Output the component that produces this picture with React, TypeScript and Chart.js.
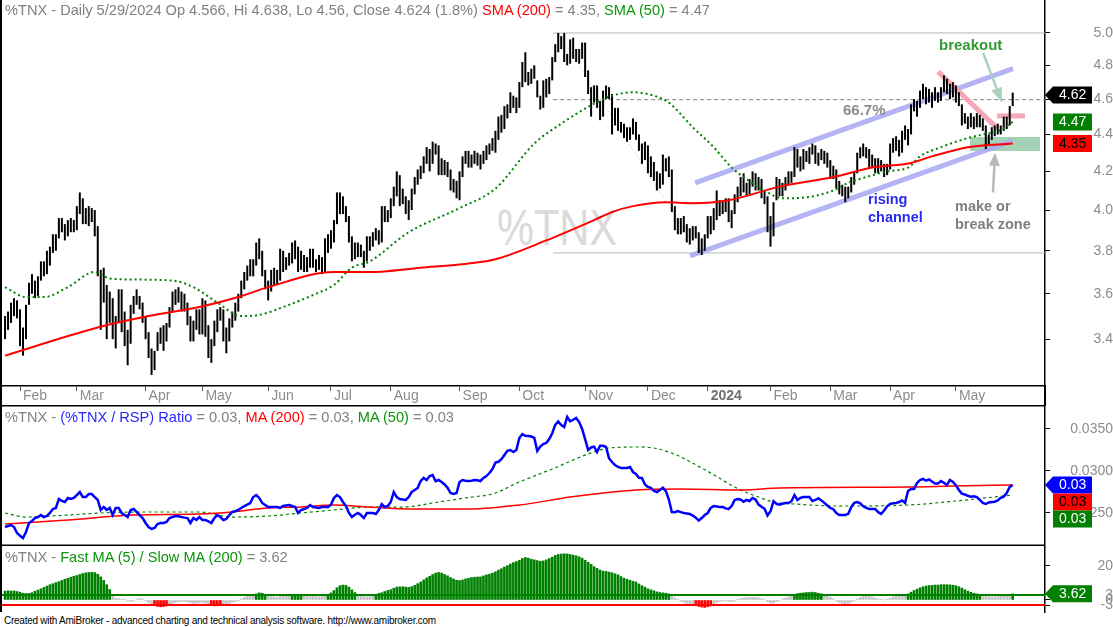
import React, { useEffect, useRef } from "react";
import { Chart, registerables } from "chart.js";

Chart.register(...registerables);

const FONT = "'Liberation Sans', Arial, Helvetica, sans-serif";
Chart.defaults.font.family = FONT;

// ---------------- data ----------------
// trading-day index of the first session of each month (day 0 = 2023-01-25)
const monthTickDays = [5, 24, 47, 66, 88, 109, 129, 152, 172, 194, 215, 235, 256, 276, 296, 318];
const monthTickLabels = ["Feb", "Mar", "Apr", "May", "Jun", "Jul", "Aug", "Sep", "Oct", "Nov", "Dec", "2024", "Feb", "Mar", "Apr", "May"];
const yearTickDay = 235;

const priceTicks = [3.4, 3.6, 3.8, 4.0, 4.2, 4.4, 4.6, 4.8, 5.0];

// daily lows / highs of %TNX
const lows = [
  3.40, 3.44, 3.47, 3.50, 3.49,
  3.37, 3.33, 3.40, 3.55, 3.60, 3.58, 3.59, 3.66, 3.68, 3.69, 3.73, 3.79, 3.80, 3.86, 3.89, 3.85, 3.87, 3.89, 3.89,
  3.90, 3.98, 3.93, 3.93, 3.92, 3.94, 3.87, 3.68, 3.44, 3.56, 3.40, 3.47, 3.40, 3.36, 3.47, 3.43, 3.37, 3.29, 3.38, 3.51, 3.55, 3.53, 3.47,
  3.40, 3.32, 3.25, 3.27, 3.35, 3.38, 3.35, 3.39, 3.45, 3.52, 3.55, 3.56, 3.52, 3.52, 3.46, 3.39, 3.39, 3.44, 3.42,
  3.42, 3.41, 3.32, 3.30, 3.37, 3.43, 3.48, 3.39, 3.34, 3.39, 3.45, 3.48, 3.52, 3.58, 3.62, 3.66, 3.68, 3.68, 3.73, 3.76, 3.68, 3.62,
  3.57, 3.61, 3.64, 3.64, 3.66, 3.70, 3.71, 3.73, 3.74, 3.76, 3.70, 3.71, 3.70, 3.70, 3.72, 3.72, 3.70, 3.71, 3.69, 3.70, 3.79,
  3.81, 3.84, 3.93, 3.98, 3.98, 3.94, 3.84, 3.75, 3.76, 3.77, 3.77, 3.72, 3.75, 3.80, 3.82, 3.85, 3.83, 3.84, 3.94, 3.94,
  3.96, 4.02, 4.07, 4.02, 4.03, 3.98, 3.95, 4.00, 4.08, 4.13, 4.16, 4.19, 4.24, 4.20, 4.24, 4.29, 4.18, 4.18, 4.18, 4.17, 4.10, 4.09, 4.06,
  4.05, 4.17, 4.24, 4.22, 4.22, 4.24, 4.23, 4.21, 4.24, 4.26, 4.29, 4.31, 4.30, 4.37, 4.41, 4.43, 4.49, 4.52, 4.55, 4.52,
  4.55, 4.67, 4.70, 4.68, 4.69, 4.72, 4.61, 4.54, 4.55, 4.61, 4.63, 4.71, 4.82, 4.88, 4.90, 4.82, 4.80, 4.81, 4.84, 4.82, 4.81, 4.84,
  4.73, 4.63, 4.50, 4.58, 4.55, 4.48, 4.50, 4.60, 4.60, 4.40, 4.45, 4.42, 4.41, 4.38, 4.36, 4.37, 4.40, 4.37, 4.31, 4.24, 4.26,
  4.19, 4.17, 4.15, 4.10, 4.11, 4.13, 4.20, 4.17, 3.99, 3.90, 3.88, 3.88, 3.89, 3.84, 3.83, 3.85, 3.86, 3.79, 3.78, 3.80,
  3.86, 3.88, 3.90, 3.95, 3.97, 3.98, 3.99, 3.94, 3.91, 3.98, 4.04, 4.07, 4.09, 4.07, 4.08, 4.12, 4.10, 4.10, 4.06, 4.03, 3.89,
  3.82, 3.87, 4.05, 4.07, 4.07, 4.10, 4.13, 4.14, 4.17, 4.22, 4.20, 4.21, 4.25, 4.24, 4.29, 4.24, 4.23, 4.26, 4.24, 4.22,
  4.16, 4.16, 4.11, 4.08, 4.07, 4.04, 4.06, 4.09, 4.13, 4.19, 4.27, 4.28, 4.27, 4.22, 4.22, 4.19, 4.19, 4.20, 4.17, 4.18,
  4.21, 4.30, 4.31, 4.28, 4.30, 4.37, 4.34, 4.40, 4.53, 4.50, 4.55, 4.60, 4.57, 4.58, 4.55, 4.59, 4.58, 4.59, 4.64, 4.63, 4.60, 4.61,
  4.58, 4.56, 4.45, 4.46, 4.43, 4.44, 4.43, 4.44, 4.44, 4.42, 4.32, 4.34, 4.37, 4.39, 4.40, 4.40, 4.42, 4.43, 4.45, 4.56,
];
const highs = [
  3.50, 3.52, 3.56, 3.58, 3.57,
  3.53, 3.45, 3.55, 3.65, 3.69, 3.66, 3.68, 3.75, 3.75, 3.80, 3.82, 3.88, 3.88, 3.96, 3.96, 3.93, 3.95, 3.96, 3.95,
  4.02, 4.09, 4.06, 4.01, 4.02, 4.01, 4.00, 3.92, 3.71, 3.72, 3.64, 3.61, 3.58, 3.50, 3.62, 3.62, 3.52, 3.44, 3.55, 3.59, 3.62, 3.59, 3.56,
  3.50, 3.43, 3.36, 3.35, 3.43, 3.45, 3.46, 3.47, 3.54, 3.61, 3.62, 3.63, 3.61, 3.60, 3.56, 3.50, 3.48, 3.53, 3.53,
  3.58, 3.57, 3.46, 3.40, 3.48, 3.53, 3.54, 3.53, 3.45, 3.49, 3.52, 3.56, 3.60, 3.66, 3.70, 3.73, 3.76, 3.76, 3.84, 3.86, 3.80, 3.71,
  3.66, 3.71, 3.72, 3.71, 3.81, 3.80, 3.77, 3.79, 3.84, 3.85, 3.82, 3.80, 3.78, 3.77, 3.81, 3.81, 3.76, 3.78, 3.77, 3.86, 3.88,
  3.90, 3.95, 4.09, 4.09, 4.07, 4.02, 3.97, 3.87, 3.84, 3.84, 3.83, 3.80, 3.87, 3.87, 3.89, 3.91, 3.90, 4.02, 4.02, 4.00,
  4.06, 4.12, 4.20, 4.18, 4.11, 4.07, 4.05, 4.11, 4.17, 4.21, 4.23, 4.28, 4.33, 4.32, 4.36, 4.35, 4.34, 4.27, 4.26, 4.25, 4.21, 4.16, 4.15,
  4.20, 4.28, 4.31, 4.31, 4.29, 4.31, 4.30, 4.29, 4.31, 4.34, 4.35, 4.38, 4.42, 4.50, 4.51, 4.56, 4.57, 4.64, 4.62, 4.61,
  4.70, 4.82, 4.88, 4.76, 4.78, 4.80, 4.71, 4.62, 4.71, 4.72, 4.73, 4.85, 4.93, 5.00, 4.98, 5.00, 4.87, 4.96, 4.97, 4.90, 4.90, 4.94,
  4.94, 4.77, 4.67, 4.68, 4.68, 4.59, 4.65, 4.68, 4.67, 4.63, 4.55, 4.55, 4.47, 4.46, 4.44, 4.44, 4.49, 4.47, 4.40, 4.35, 4.36,
  4.34, 4.28, 4.25, 4.20, 4.19, 4.29, 4.27, 4.28, 4.21, 4.02, 3.96, 3.96, 3.97, 3.93, 3.91, 3.92, 3.92, 3.89, 3.86, 3.88,
  3.97, 3.97, 4.01, 4.10, 4.05, 4.05, 4.06, 4.06, 4.00, 4.08, 4.12, 4.17, 4.19, 4.14, 4.16, 4.20, 4.19, 4.17, 4.16, 4.10, 4.07,
  3.97, 4.04, 4.17, 4.16, 4.14, 4.17, 4.20, 4.20, 4.33, 4.32, 4.28, 4.32, 4.31, 4.33, 4.35, 4.34, 4.30, 4.32, 4.31, 4.30,
  4.26, 4.23, 4.21, 4.15, 4.13, 4.12, 4.12, 4.17, 4.20, 4.30, 4.33, 4.35, 4.33, 4.32, 4.29, 4.27, 4.27, 4.26, 4.24, 4.24,
  4.35, 4.38, 4.39, 4.37, 4.42, 4.45, 4.43, 4.57, 4.60, 4.59, 4.65, 4.69, 4.67, 4.66, 4.64, 4.67, 4.64, 4.67, 4.74, 4.72, 4.69, 4.70,
  4.68, 4.64, 4.57, 4.52, 4.50, 4.52, 4.50, 4.52, 4.51, 4.49, 4.45, 4.40, 4.44, 4.45, 4.46, 4.45, 4.50, 4.50, 4.56, 4.638,
];
const lastClose = 4.624;

const sma200Days = [0, 31, 48, 65, 78, 88, 110, 122, 139, 155, 164, 181, 197, 203, 210, 221, 230, 242, 259, 277, 290, 303, 310, 322, 337];
const sma200Vals = [3.33, 3.45, 3.50, 3.54, 3.585, 3.63, 3.70, 3.70, 3.72, 3.74, 3.76, 3.85, 3.95, 3.99, 4.02, 4.04, 4.035, 4.05, 4.12, 4.17, 4.22, 4.245, 4.28, 4.33, 4.35];

const sma50Days = [0, 7, 13, 21, 30, 35, 43, 56, 63, 71, 79, 85, 93, 104, 110, 116, 122, 135, 152, 164, 177, 186, 195, 203, 210, 217, 222, 230, 237, 243, 247, 255, 260, 268, 277, 282, 288, 295, 302, 306, 313, 322, 327, 333, 337];
const sma50Vals = [3.63, 3.585, 3.585, 3.63, 3.70, 3.67, 3.665, 3.66, 3.63, 3.56, 3.50, 3.505, 3.54, 3.60, 3.64, 3.72, 3.75, 3.89, 4.01, 4.11, 4.35, 4.46, 4.555, 4.62, 4.64, 4.62, 4.58, 4.44, 4.33, 4.22, 4.17, 4.09, 4.06, 4.065, 4.10, 4.14, 4.17, 4.20, 4.22, 4.28, 4.33, 4.38, 4.40, 4.425, 4.47];

// %TNX / RSP ratio, one value per trading day
const ratioVals = [
  0.02333, 0.02345, 0.02357, 0.02333, 0.02262, 0.02230, 0.02202, 0.02274, 0.02381, 0.02405,
  0.02440, 0.02452, 0.02476, 0.02452, 0.02464, 0.02500, 0.02548, 0.02560, 0.02667, 0.02643,
  0.02631, 0.02679, 0.02667, 0.02679, 0.02714, 0.02750, 0.02690, 0.02690, 0.02726, 0.02726,
  0.02690, 0.02655, 0.02536, 0.02571, 0.02536, 0.02560, 0.02476, 0.02560, 0.02560, 0.02500,
  0.02476, 0.02452, 0.02536, 0.02548, 0.02512, 0.02476, 0.02440, 0.02381, 0.02333, 0.02310,
  0.02321, 0.02369, 0.02381, 0.02381, 0.02393, 0.02440, 0.02452, 0.02464, 0.02460, 0.02452,
  0.02445, 0.02440, 0.02381, 0.02440, 0.02417, 0.02452, 0.02417, 0.02417, 0.02400, 0.02381,
  0.02440, 0.02476, 0.02452, 0.02417, 0.02429, 0.02476, 0.02512, 0.02520, 0.02536, 0.02560,
  0.02583, 0.02600, 0.02619, 0.02690, 0.02714, 0.02679, 0.02620, 0.02595, 0.02571, 0.02571,
  0.02571, 0.02571, 0.02560, 0.02583, 0.02590, 0.02595, 0.02583, 0.02571, 0.02500, 0.02536,
  0.02548, 0.02560, 0.02595, 0.02571, 0.02565, 0.02560, 0.02571, 0.02571, 0.02571, 0.02600,
  0.02679, 0.02714, 0.02690, 0.02631, 0.02583, 0.02500, 0.02452, 0.02480, 0.02500, 0.02476,
  0.02440, 0.02500, 0.02500, 0.02500, 0.02488, 0.02536, 0.02607, 0.02571, 0.02583, 0.02631,
  0.02750, 0.02690, 0.02667, 0.02660, 0.02655, 0.02690, 0.02750, 0.02774, 0.02798, 0.02880,
  0.02917, 0.02893, 0.02940, 0.02952, 0.02880, 0.02893, 0.02869, 0.02840, 0.02800, 0.02738,
  0.02726, 0.02738, 0.02869, 0.02893, 0.02885, 0.02881, 0.02885, 0.02893, 0.02890, 0.02881,
  0.02917, 0.02940, 0.02976, 0.03024, 0.03100, 0.03110, 0.03140, 0.03190, 0.03240, 0.03250,
  0.03226, 0.03250, 0.03393, 0.03440, 0.03420, 0.03417, 0.03410, 0.03393, 0.03238, 0.03290,
  0.03320, 0.03333, 0.03380, 0.03450, 0.03550, 0.03590, 0.03548, 0.03524, 0.03643, 0.03590,
  0.03610, 0.03631, 0.03583, 0.03500, 0.03380, 0.03250, 0.03280, 0.03290, 0.03226, 0.03300,
  0.03300, 0.03286, 0.03150, 0.03107, 0.03071, 0.03048, 0.03036, 0.03036, 0.03036, 0.03048,
  0.02988, 0.02964, 0.02920, 0.02917, 0.02840, 0.02810, 0.02800, 0.02762, 0.02750, 0.02774,
  0.02800, 0.02760, 0.02660, 0.02512, 0.02510, 0.02524, 0.02510, 0.02500, 0.02495, 0.02488,
  0.02470, 0.02445, 0.02410, 0.02440, 0.02476, 0.02500, 0.02560, 0.02583, 0.02578, 0.02571,
  0.02571, 0.02555, 0.02548, 0.02583, 0.02655, 0.02665, 0.02660, 0.02635, 0.02655, 0.02643,
  0.02679, 0.02660, 0.02600, 0.02575, 0.02550, 0.02470, 0.02520, 0.02640, 0.02610, 0.02600,
  0.02610, 0.02619, 0.02619, 0.02640, 0.02714, 0.02655, 0.02680, 0.02690, 0.02690, 0.02690,
  0.02643, 0.02655, 0.02675, 0.02650, 0.02620, 0.02590, 0.02560, 0.02545, 0.02500, 0.02476,
  0.02476, 0.02476, 0.02490, 0.02570, 0.02620, 0.02631, 0.02615, 0.02580, 0.02560, 0.02548,
  0.02548, 0.02548, 0.02510, 0.02490, 0.02530, 0.02580, 0.02607, 0.02615, 0.02619, 0.02631,
  0.02650, 0.02620, 0.02762, 0.02786, 0.02786, 0.02857, 0.02893, 0.02905, 0.02885, 0.02900,
  0.02875, 0.02850, 0.02850, 0.02880, 0.02860, 0.02833, 0.02893, 0.02869, 0.02830, 0.02775,
  0.02730, 0.02720, 0.02705, 0.02695, 0.02700, 0.02690, 0.02655, 0.02619, 0.02607, 0.02625,
  0.02631, 0.02635, 0.02650, 0.02680, 0.02695, 0.02738, 0.02810, 0.02833,
];
const ratioMA200Days = [0, 21, 43, 65, 76, 88, 99, 110, 122, 135, 156, 172, 189, 200, 211, 226, 246, 259, 302, 317, 337];
const ratioMA200Vals = [0.02369, 0.02417, 0.02476, 0.02488, 0.02512, 0.02560, 0.02571, 0.02595, 0.02571, 0.02548, 0.02548, 0.02595, 0.02690, 0.02738, 0.02774, 0.02786, 0.02774, 0.02798, 0.02810, 0.02821, 0.02833];
const ratioMA50Days = [0, 7, 21, 32, 48, 65, 76, 88, 99, 110, 122, 133, 145, 156, 163, 172, 183, 195, 202, 213, 222, 233, 246, 252, 257, 264, 279, 302, 318, 337];
const ratioMA50Vals = [0.02500, 0.02452, 0.02476, 0.02500, 0.02512, 0.02512, 0.02452, 0.02464, 0.02500, 0.02536, 0.02571, 0.02571, 0.02631, 0.02690, 0.02726, 0.02869, 0.03024, 0.03202, 0.03274, 0.03286, 0.03226, 0.03036, 0.02774, 0.02690, 0.02631, 0.02607, 0.02583, 0.02595, 0.02643, 0.02714];
const ratioTicks = [0.025, 0.03, 0.035];

// Fast MA(5) / Slow MA(200) oscillator (% above/below), one value per trading day
const oscVals = [
  5.2, 5.4, 5.3, 5.3, 5.0, 4.6, 4.0, 3.8, 3.9, 4.3,
  5.2, 5.8, 6.6, 7.4, 8.2, 9.0, 9.6, 10.2, 10.8, 11.5,
  12.2, 12.8, 13.4, 13.9, 14.4, 15.0, 15.6, 16.0, 16.2, 16.3,
  16.1, 15.2, 13.6, 11.5, 9.0, 6.2, 2.5, 1.2, 0.8, 0.5,
  0.2, -0.6, -0.8, -0.5, 0.4, 0.9, 0.6, -0.5, -1.5, -2.5,
  -3.4, -3.8, -4.0, -3.9, -3.5, -2.8, -2.0, -1.5, -1.0, -0.8,
  -0.9, -1.2, -1.6, -2.0, -1.8, -1.7, -1.5, -1.9, -2.4, -3.2,
  -3.5, -3.4, -3.1, -2.6, -2.5, -2.0, -1.4, -0.9, -0.2, 0.6,
  1.5, 2.2, 2.6, 2.9, 3.6, 4.2, 4.0, 3.3, 2.4, 2.0,
  1.8, 1.6, 2.2, 2.1, 2.2, 2.5, 3.1, 3.4, 3.3, 3.2,
  2.6, 2.2, 2.0, 2.3, 2.0, 1.9, 2.1, 2.6, 3.4, 4.2,
  5.6, 7.2, 8.4, 8.8, 8.6, 7.6, 6.0, 4.4, 2.9, 2.6,
  2.0, 1.8, 2.1, 2.6, 3.2, 3.9, 4.3, 5.0, 5.6, 6.1,
  6.9, 7.6, 7.7, 7.8, 7.6, 7.4, 7.8, 8.6, 9.6, 10.6,
  11.8, 13.0, 14.0, 15.0, 15.8, 16.2, 15.8, 15.0, 14.2, 13.2,
  12.4, 11.6, 11.4, 11.8, 12.4, 12.8, 13.2, 13.4, 13.5, 13.6,
  14.2, 14.8, 15.2, 15.8, 16.6, 17.6, 18.4, 19.4, 20.2, 21.2,
  22.0, 22.6, 23.4, 24.4, 25.0, 24.6, 24.0, 23.6, 23.2, 22.8,
  23.0, 23.6, 24.4, 25.2, 26.2, 26.8, 27.0, 27.2, 27.1, 26.8,
  26.4, 26.0, 25.4, 24.6, 23.4, 22.2, 21.0, 19.6, 18.6, 17.6,
  17.0, 16.8, 16.4, 16.0, 15.4, 14.8, 13.8, 12.8, 12.2, 11.6,
  11.0, 10.6, 9.4, 8.4, 7.6, 6.6, 6.0, 5.4, 4.8, 4.4,
  4.2, 4.0, 3.6, 2.8, 1.4, 0.2, -0.8, -1.4, -2.0, -2.4,
  -2.8, -3.3, -3.8, -4.2, -4.4, -4.0, -3.5, -2.6, -1.5, -0.9,
  -0.6, -0.5, -0.8, -1.0, -0.6, 0.2, 0.8, 1.2, 1.3, 1.4,
  1.6, 1.5, 1.2, 0.8, 0.1, -1.0, -1.8, -1.6, -1.0, -0.2,
  0.6, 1.2, 1.8, 2.4, 3.2, 3.8, 4.0, 4.2, 4.4, 4.4,
  4.6, 4.4, 4.0, 3.6, 3.0, 2.4, 1.6, 0.6, -0.6, -1.4,
  -2.0, -2.2, -2.0, -1.2, -0.4, 0.6, 1.6, 2.2, 2.4, 2.2,
  1.8, 1.2, 0.6, 0.2, 0.0, 0.4, 1.2, 1.8, 2.2, 2.4,
  2.6, 2.9, 3.6, 4.6, 5.6, 6.4, 7.2, 7.8, 8.2, 8.5,
  8.6, 8.8, 8.8, 9.0, 9.0, 9.0, 8.9, 8.7, 8.4, 7.8,
  7.0, 6.0, 5.2, 4.5, 3.9, 3.6, 3.3, 2.9, 2.4, 2.0,
  1.8, 1.8, 2.0, 2.2, 2.4, 2.6, 2.9, 3.62,
];
const oscTicks = [-3, 0, 3, 20];
const oscUpper = 3;
const oscLower = -3;

// chart annotations, in (trading day, price) units
const fibStartDay = 183.3;
const fibHigh = 5.0;
const fibLow = 3.79;
const fib667 = 4.597;
const fibDiag = [{ x: 185, y: 5.0 }, { x: 232, y: 3.79 }];
const channelUpper = [{ x: 230.8, y: 4.14 }, { x: 337.1, y: 4.78 }];
const channelLower = [{ x: 229.1, y: 3.776 }, { x: 336.8, y: 4.364 }];
const downTrend = [{ x: 312.0, y: 4.762 }, { x: 331.8, y: 4.435 }];
const breakoutLevel = [{ x: 331.8, y: 4.504 }, { x: 341.1, y: 4.504 }];
const zone = { x0: 322.7, x1: 346.1, y0: 4.309, y1: 4.386 };
const breakoutArrow = { x0: 327.1, y0: 4.876, x1: 333.4, y1: 4.58 };
const zoneArrow = { x0: 330.4, y0: 4.09, x1: 331.1, y1: 4.30 };

// ---------------- helpers ----------------
const X_MIN = -1.69;
const X_MAX = 347.8;
const AXIS_W = 68;

const pts = (days: number[], vals: number[]) => days.map((d, i) => ({ x: d, y: vals[i] }));

const lockY = (s: any) => {
  s.width = AXIS_W;
  s.paddingTop = 0; s.paddingBottom = 0; s.paddingLeft = 0; s.paddingRight = 0;
};

function drawTag(chart: any, y: number, text: string, bg: string, fg: string, pointer: boolean) {
  const ctx = chart.ctx;
  const tip = chart.chartArea.right;
  const L = tip + 8, R = tip + 47, h = 17;
  ctx.save();
  ctx.fillStyle = bg;
  ctx.beginPath();
  if (pointer) { ctx.moveTo(tip, y); ctx.lineTo(L, y - h / 2); } else { ctx.moveTo(L, y - h / 2); }
  ctx.lineTo(R, y - h / 2);
  ctx.lineTo(R, y + h / 2);
  ctx.lineTo(L, y + h / 2);
  ctx.closePath();
  ctx.fill();
  ctx.fillStyle = fg;
  ctx.font = `14px ${FONT}`;
  ctx.textAlign = "left";
  ctx.textBaseline = "middle";
  ctx.fillText(text, L + 6, y + 0.5);
  ctx.restore();
}

function drawArrow(ctx: any, x0: number, y0: number, x1: number, y1: number, color: string, headLen: number, headHalf: number) {
  const a = Math.atan2(y1 - y0, x1 - x0);
  const bx = x1 - headLen * Math.cos(a);
  const by = y1 - headLen * Math.sin(a);
  ctx.save();
  ctx.strokeStyle = color;
  ctx.fillStyle = color;
  ctx.lineWidth = 2.5;
  ctx.beginPath(); ctx.moveTo(x0, y0); ctx.lineTo(bx, by); ctx.stroke();
  ctx.beginPath();
  ctx.moveTo(x1, y1);
  ctx.lineTo(bx + headHalf * Math.sin(a), by - headHalf * Math.cos(a));
  ctx.lineTo(bx - headHalf * Math.sin(a), by + headHalf * Math.cos(a));
  ctx.closePath();
  ctx.fill();
  ctx.restore();
}

const hiddenX = { type: "linear", min: X_MIN, max: X_MAX, display: false, offset: false, grid: { offset: false } };

function lineDs(data: any[], color: string, width: number, order: number, extra: any = {}) {
  return { type: "line", data, borderColor: color, borderWidth: width, pointRadius: 0, order, ...extra };
}

// ---------------- charts ----------------
function makeTop(canvas: HTMLCanvasElement) {
  const decor = {
    id: "topDecor",
    beforeDatasetsDraw(chart: any) {
      const { ctx, scales } = chart;
      const x0 = scales.x.getPixelForValue(zone.x0), x1 = scales.x.getPixelForValue(zone.x1);
      const y0 = scales.y.getPixelForValue(zone.y1), y1 = scales.y.getPixelForValue(zone.y0);
      ctx.save();
      ctx.fillStyle = "rgba(110,180,135,0.62)";
      ctx.fillRect(x0, y0, x1 - x0, y1 - y0);
      ctx.restore();
    },
    afterDatasetsDraw(chart: any) {
      const { ctx, scales } = chart;
      const px = (v: number) => scales.x.getPixelForValue(v);
      const py = (v: number) => scales.y.getPixelForValue(v);
      drawArrow(ctx, px(breakoutArrow.x0), py(breakoutArrow.y0), px(breakoutArrow.x1), py(breakoutArrow.y1), "#a9d2bc", 15, 5.5);
      drawArrow(ctx, px(zoneArrow.x0), py(zoneArrow.y0), px(zoneArrow.x1), py(zoneArrow.y1), "#b9b9b9", 13, 5.5);
    },
    afterDraw(chart: any) {
      const y = chart.scales.y;
      drawTag(chart, y.getPixelForValue(lastClose), lastClose.toFixed(2), "#000000", "#ffffff", true);
      const s50 = sma50Vals[sma50Vals.length - 1];
      const s200 = sma200Vals[sma200Vals.length - 1];
      drawTag(chart, y.getPixelForValue(s50), s50.toFixed(2), "#008000", "#ffffff", false);
      drawTag(chart, y.getPixelForValue(s200), s200.toFixed(2), "#ff0000", "#000000", false);
    },
  };

  return new Chart(canvas, {
    type: "line",
    data: {
      datasets: [
        lineDs(pts(sma200Days, sma200Vals), "#ff0000", 2, 0, { cubicInterpolationMode: "monotone" }),
        lineDs(pts(sma50Days, sma50Vals), "#008000", 2, 1, { cubicInterpolationMode: "monotone", borderDash: [2, 3] }),
        {
          type: "bar",
          data: lows.map((l, i) => ({ x: i, y: [l, highs[i]] })),
          backgroundColor: "#000000",
          borderWidth: 0,
          barThickness: 2,
          inflateAmount: 0,
          order: 2,
        },
        lineDs(downTrend, "rgba(244,162,178,0.92)", 5, 3),
        lineDs(breakoutLevel, "rgba(244,162,178,0.92)", 5, 3),
        lineDs(channelUpper, "rgba(170,170,244,0.88)", 5, 4),
        lineDs(channelLower, "rgba(170,170,244,0.88)", 5, 4),
        lineDs([{ x: fibStartDay, y: fibHigh }, { x: X_MAX, y: fibHigh }], "#b8b8b8", 1, 5),
        lineDs([{ x: fibStartDay, y: fibLow }, { x: X_MAX, y: fibLow }], "#b8b8b8", 1, 5),
        lineDs([{ x: fibStartDay, y: fib667 }, { x: X_MAX, y: fib667 }], "#808080", 1, 5, { borderDash: [4, 3] }),
        lineDs(fibDiag, "#c4c4c4", 1, 5, { borderDash: [1, 2] }),
      ] as any,
    },
    options: {
      animation: false,
      responsive: false,
      maintainAspectRatio: false,
      layout: { padding: 0 },
      plugins: { legend: { display: false }, tooltip: { enabled: false } },
      scales: {
        x: {
          type: "linear",
          min: X_MIN,
          max: X_MAX,
          offset: false,
          position: "bottom",
          afterBuildTicks: (s: any) => { s.ticks = monthTickDays.map((v) => ({ value: v })); },
          afterFit: (s: any) => { s.height = 19; s.paddingLeft = 0; s.paddingRight = 0; },
          ticks: {
            autoSkip: false,
            maxRotation: 0,
            align: "start",
            labelOffset: 3,
            padding: -3.5,
            callback: (v: any) => { const i = monthTickDays.indexOf(Number(v)); return i >= 0 ? monthTickLabels[i] : ""; },
            color: (c: any) => (c.tick && c.tick.value === yearTickDay ? "#6e6e6e" : "#8c8c8c"),
            font: (c: any) => ({ family: FONT, size: 14, weight: c.tick && c.tick.value === yearTickDay ? "bold" : "normal" }),
          },
          grid: { offset: false, drawOnChartArea: false, drawTicks: true, tickLength: 5, color: "#555555", lineWidth: 1 },
          border: { display: true, color: "#000000", width: 1.5 },
        },
        y: {
          type: "logarithmic",
          position: "right",
          min: 3.205,
          max: 5.212,
          beginAtZero: false,
          afterBuildTicks: (s: any) => { s.ticks = priceTicks.map((v) => ({ value: v })); },
          afterFit: lockY,
          ticks: {
            autoSkip: false,
            callback: (v: any) => Number(v).toFixed(1),
            color: "#8c8c8c",
            font: { family: FONT, size: 14 },
            crossAlign: "far",
            padding: 38.5,
          },
          grid: { drawOnChartArea: false, drawTicks: true, tickLength: 5, color: "#000000", lineWidth: 1 },
          border: { display: true, color: "#000000", width: 1.5 },
        },
      },
    } as any,
    plugins: [decor],
  });
}

function makeMid(canvas: HTMLCanvasElement) {
  const decor = {
    id: "midDecor",
    afterDraw(chart: any) {
      const { ctx, chartArea } = chart;
      ctx.save();
      ctx.strokeStyle = "#000";
      ctx.lineWidth = 1.5;
      ctx.beginPath();
      ctx.moveTo(chartArea.left, chartArea.top + 0.75);
      ctx.lineTo(chartArea.right, chartArea.top + 0.75);
      ctx.moveTo(chartArea.left, chartArea.bottom - 0.75);
      ctx.lineTo(chartArea.right, chartArea.bottom - 0.75);
      ctx.stroke();
      ctx.restore();
      const y = chart.scales.y;
      const r = ratioVals[ratioVals.length - 1];
      const m200 = ratioMA200Vals[ratioMA200Vals.length - 1];
      const m50 = ratioMA50Vals[ratioMA50Vals.length - 1];
      const y0 = y.getPixelForValue(r);
      const y1 = Math.max(y.getPixelForValue(m200), y0 + 17);
      const y2 = Math.max(y.getPixelForValue(m50), y1 + 17);
      drawTag(chart, y0, r.toFixed(2), "#0000ff", "#ffffff", true);
      drawTag(chart, y1, m200.toFixed(2), "#ff0000", "#000000", false);
      drawTag(chart, y2, m50.toFixed(2), "#008000", "#ffffff", false);
    },
  };
  return new Chart(canvas, {
    type: "line",
    data: {
      datasets: [
        lineDs(ratioVals.map((v, i) => ({ x: i, y: v })), "#0000ff", 2.5, 0),
        lineDs(pts(ratioMA200Days, ratioMA200Vals), "#ff0000", 1.5, 1, { cubicInterpolationMode: "monotone" }),
        lineDs(pts(ratioMA50Days, ratioMA50Vals), "#008000", 1.2, 2, { cubicInterpolationMode: "monotone", borderDash: [3, 3] }),
      ] as any,
    },
    options: {
      animation: false,
      responsive: false,
      maintainAspectRatio: false,
      layout: { padding: 0 },
      plugins: { legend: { display: false }, tooltip: { enabled: false } },
      scales: {
        x: hiddenX,
        y: {
          type: "linear",
          position: "right",
          min: 0.021071,
          max: 0.037857,
          afterBuildTicks: (s: any) => { s.ticks = ratioTicks.map((v) => ({ value: v })); },
          afterFit: lockY,
          ticks: {
            autoSkip: false,
            callback: (v: any) => Number(v).toFixed(4),
            color: "#8c8c8c",
            font: { family: FONT, size: 14 },
            crossAlign: "far",
            padding: 15.2,
          },
          grid: { drawOnChartArea: false, drawTicks: true, tickLength: 5, color: "#000000", lineWidth: 1 },
          border: { display: true, color: "#000000", width: 1.5 },
        },
      },
    } as any,
    plugins: [decor],
  });
}

function makeBottom(canvas: HTMLCanvasElement) {
  const decor = {
    id: "botDecor",
    afterDraw(chart: any) {
      const v = oscVals[oscVals.length - 1];
      drawTag(chart, chart.scales.y.getPixelForValue(v), v.toFixed(2), "#008000", "#ffffff", true);
    },
  };
  return new Chart(canvas, {
    type: "line",
    data: {
      datasets: [
        lineDs([{ x: X_MIN, y: oscUpper }, { x: X_MAX, y: oscUpper }], "#008000", 2, 0),
        lineDs([{ x: X_MIN, y: oscLower }, { x: X_MAX, y: oscLower }], "#ff0000", 2, 0),
        {
          type: "bar",
          data: oscVals.map((v, i) => ({ x: i, y: v })),
          backgroundColor: (c: any) => {
            const v = oscVals[c.dataIndex];
            return v > oscUpper ? "#008000" : v < oscLower ? "#ff0000" : "#c4c4c4";
          },
          borderWidth: 0,
          barThickness: 2,
          order: 1,
        },
      ] as any,
    },
    options: {
      animation: false,
      responsive: false,
      maintainAspectRatio: false,
      layout: { padding: 0 },
      plugins: { legend: { display: false }, tooltip: { enabled: false } },
      scales: {
        x: hiddenX,
        y: {
          type: "linear",
          position: "right",
          min: -7.647,
          max: 31.76,
          afterBuildTicks: (s: any) => { s.ticks = oscTicks.map((v) => ({ value: v })); },
          afterFit: lockY,
          ticks: {
            autoSkip: false,
            callback: (v: any) => String(v),
            color: "#8c8c8c",
            font: { family: FONT, size: 14 },
            crossAlign: "far",
            padding: 42.4,
          },
          grid: { drawOnChartArea: false, drawTicks: true, tickLength: 5, color: "#000000", lineWidth: 1 },
          border: { display: true, color: "#000000", width: 1.5 },
        },
      },
    } as any,
    plugins: [decor],
  });
}

// ---------------- component ----------------
const gray = "#808080";
const abs = (left: number, top: number, extra: any = {}) => ({ position: "absolute" as const, left, top, whiteSpace: "nowrap" as const, ...extra });

export default function App() {
  const topRef = useRef<HTMLCanvasElement>(null);
  const midRef = useRef<HTMLCanvasElement>(null);
  const botRef = useRef<HTMLCanvasElement>(null);

  useEffect(() => {
    const charts: Chart[] = [];
    if (topRef.current) charts.push(makeTop(topRef.current));
    if (midRef.current) charts.push(makeMid(midRef.current));
    if (botRef.current) charts.push(makeBottom(botRef.current));
    return () => charts.forEach((c) => c.destroy());
  }, []);

  const titleFont = { font: `14.6px ${FONT}`, color: gray, lineHeight: "17px" };
  const noteFont = (size: number, color: string) => ({ font: `bold ${size}px ${FONT}`, color, lineHeight: "17px" });

  return (
    <div style={{ position: "absolute", left: 0, top: 0, width: 1113, height: 627, background: "#ffffff", overflow: "hidden", fontFamily: FONT }}>
      <div style={abs(497, 203, { font: `50px ${FONT}`, lineHeight: "50px", color: "#dadada", transform: "scaleX(0.83)", transformOrigin: "left top" })}>%TNX</div>

      <canvas ref={topRef} width={1113} height={405} style={{ position: "absolute", left: 0, top: 0, width: 1113, height: 405 }} />
      <canvas ref={midRef} width={1113} height={141} style={{ position: "absolute", left: 0, top: 405, width: 1113, height: 141 }} />
      <canvas ref={botRef} width={1113} height={67} style={{ position: "absolute", left: 0, top: 546, width: 1113, height: 67 }} />

      {/* panel frame lines */}
      <div style={abs(0, 0, { width: 1.5, height: 612, background: "#000" })} />
      <div style={abs(1044.25, 386, { width: 1.5, height: 20, background: "#000" })} />

      {/* titles */}
      <div style={abs(5, 2, titleFont)}>
        %TNX - Daily 5/29/2024 Op 4.566, Hi 4.638, Lo 4.56, Close 4.624 (1.8%) <span style={{ color: "#ff0000" }}>SMA (200)</span> = 4.35, <span style={{ color: "#0a960a" }}>SMA (50)</span> = 4.47
      </div>
      <div style={abs(5, 408.5, titleFont)}>
        %TNX - <span style={{ color: "#2828ff" }}>(%TNX / RSP) Ratio</span> = 0.03, <span style={{ color: "#ff0000" }}>MA (200)</span> = 0.03, <span style={{ color: "#0a960a" }}>MA (50)</span> = 0.03
      </div>
      <div style={abs(5, 548.5, titleFont)}>
        %TNX - <span style={{ color: "#0a960a" }}>Fast MA (5) / Slow MA (200)</span> = 3.62
      </div>

      {/* annotations */}
      <div style={abs(939, 36, noteFont(15, "#339933"))}>breakout</div>
      <div style={abs(843, 101, noteFont(15, "#8c8c8c"))}>66.7%</div>
      <div style={abs(868, 191, noteFont(14.5, "#2a2af0"))}>rising</div>
      <div style={abs(868, 208.5, noteFont(14.5, "#2a2af0"))}>channel</div>
      <div style={abs(955, 197.5, noteFont(14.5, "#808080"))}>make or</div>
      <div style={abs(955, 215.5, noteFont(14.5, "#808080"))}>break zone</div>

      {/* footer */}
      <div style={abs(4, 615, { font: `10px ${FONT}`, color: "#000", letterSpacing: "-0.25px", lineHeight: "12px" })}>
        Created with AmiBroker - advanced charting and technical analysis software. http://www.amibroker.com
      </div>
    </div>
  );
}
